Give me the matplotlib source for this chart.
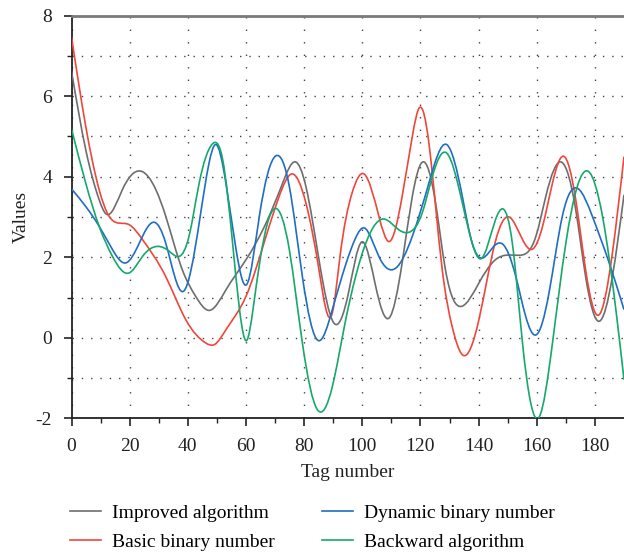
import numpy as np
import matplotlib
matplotlib.use('Agg')
import matplotlib.pyplot as plt
from matplotlib.path import Path
from matplotlib.patches import PathPatch
from matplotlib.lines import Line2D

plt.rcParams['font.family'] = ['Liberation Serif', 'DejaVu Serif']
plt.rcParams['axes.unicode_minus'] = False

# Values (knots of the smooth curves)
improved_x = [0, 4.9, 9.5, 11.8, 17.5, 23.8, 29, 32.4, 38.1, 42.7, 47.3, 53.1, 60, 66.9, 72.6, 76.9, 80.6,
              85.1, 90.3, 95.2, 99.8, 104.6, 109.2, 113.7, 117.2, 120.6, 125.2, 128.6, 134.1, 140.1, 145.8,
              149.3, 153.9, 159.7, 163.1, 168.6, 173.4, 176.8, 181.4, 186, 190]
improved_y = [6.62, 4.67, 3.43, 3.08, 3.68, 4.14, 3.68, 3.02, 1.69, 1.03, 0.68, 1.19, 1.94, 2.85, 3.84, 4.37, 3.76,
              1.94, 0.36, 1.1, 2.38, 1.28, 0.49, 1.86, 3.51, 4.36, 3.35, 1.69, 0.78, 1.36, 1.94,
              2.05, 2.05, 2.52, 3.51, 4.36, 3.18, 1.52, 0.41, 1.52, 3.55]

basic_x = [0, 4.9, 9.5, 12.9, 19.8, 24.4, 32.4, 39.3, 46.2, 49.1, 53.1, 60, 66.9, 71.4, 75.8, 80.6, 85.1,
           89.7, 92.3, 96.5, 100.6, 105.7, 109.2, 113.7, 117.2, 119.7, 122.9, 127.5, 130.9, 134.4, 140.1,
           145.8, 150.5, 155.1, 158.5, 162, 165.4, 169.2, 173.4, 176.8, 181.2, 186, 190]
basic_y = [7.47, 5.25, 3.68, 3.02, 2.81, 2.44, 1.52, 0.45, -0.13, -0.17, 0.2, 1.03, 2.52, 3.51, 4.07, 3.35, 1.69,
           0.62, 2.0, 3.6, 4.07, 3.02, 2.39, 3.51, 5.0, 5.72, 4.84, 1.69, 0.28, -0.42, 0.45,
           2.4, 3.0, 2.44, 2.2, 2.77, 3.84, 4.51, 3.43, 1.69, 0.56, 2.1, 4.5]

dynamic_x = [0, 4.9, 9.5, 14.1, 18.7, 23.3, 28.4, 32.4, 38.4, 43.9, 47.3, 49.5, 53.1, 56.6, 60.2, 64.6, 70.3,
             74.9, 79.4, 84.9, 89.7, 94.3, 97.7, 100.6, 105.7, 111.5, 117.2, 122.9, 129, 134.4, 137.8, 141.2,
             145.8, 148.2, 152.8, 156.2, 159.7, 164.2, 168.8, 174.3, 179.1, 184.9, 190]
dynamic_y = [3.7, 3.26, 2.77, 2.19, 1.86, 2.35, 2.87, 2.35, 1.15, 2.85, 4.34, 4.8, 3.84, 2.19, 1.32, 3.02, 4.52,
             3.76, 1.52, -0.07, 0.7, 1.82, 2.48, 2.73, 2.02, 1.73, 2.52, 3.84, 4.8, 3.51, 2.35, 1.98,
             2.31, 2.33, 1.52, 0.53, 0.07, 1.11, 3.02, 3.7, 3.02, 1.86, 0.7]

backward_x = [0, 4.9, 9.5, 14.1, 19.8, 24.4, 29.6, 33.6, 37, 40.4, 43.9, 48.4, 52, 55.4, 57.7, 60.2, 62.5, 65,
              67.4, 69.9, 74.9, 79.4, 84.6, 89.7, 94.3, 97.7, 100, 107.4, 112.6, 116, 120.6, 124.1, 129, 134.4,
              137.8, 140.7, 145.8, 148.4, 151.6, 155.1, 160.8, 165.4, 170, 177.8, 182.6, 187.2, 190]
backward_y = [5.19, 3.84, 2.77, 2.02, 1.61, 2.02, 2.27, 2.15, 2.02, 2.52, 3.84, 4.81, 4.42, 2.35, 0.75, -0.07, 0.75, 2.0,
              2.85, 3.21, 2.19, -0.13, -1.79, -1.21, 0.45, 1.52, 2.1, 2.95, 2.68, 2.62, 3.1, 4.01, 4.59, 3.35,
              2.35, 1.96, 2.93, 3.2, 2.35, -0.13, -1.97, -0.13, 2.35, 4.13, 3.02, 0.7, -1.04]

labels = ['Improved algorithm', 'Basic binary number', 'Dynamic binary number', 'Backward algorithm']
colors = ['#6e6e6e', '#f0463c', '#1f6ec2', '#16a86c']


def smooth_path(x, y):
    """Smooth curve through the read points, drawn as cubic Bezier pieces (C2 spline slopes)."""
    x = np.asarray(x, float)
    y = np.asarray(y, float)
    n = len(x)
    h = np.diff(x)
    d = np.diff(y) / h
    # slopes of a natural cubic spline through the points
    A = np.zeros((n, n))
    b = np.zeros(n)
    A[0, 0], A[0, 1], b[0] = 2, 1, 3 * d[0]
    A[-1, -2], A[-1, -1], b[-1] = 1, 2, 3 * d[-1]
    for k in range(1, n - 1):
        A[k, k - 1] = h[k]
        A[k, k] = 2 * (h[k - 1] + h[k])
        A[k, k + 1] = h[k - 1]
        b[k] = 3 * (h[k] * d[k - 1] + h[k - 1] * d[k])
    m = np.linalg.solve(A, b)
    verts = [(x[0], y[0])]
    codes = [Path.MOVETO]
    for k in range(n - 1):
        verts += [(x[k] + h[k] / 3, y[k] + m[k] * h[k] / 3),
                  (x[k + 1] - h[k] / 3, y[k + 1] - m[k + 1] * h[k] / 3),
                  (x[k + 1], y[k + 1])]
        codes += [Path.CURVE4] * 3
    return Path(verts, codes)


fig = plt.figure(figsize=(6.24, 5.54), dpi=100)
ax = fig.add_axes([0.1146, 0.2449, 0.8854, 0.7268])

series = [(improved_x, improved_y), (basic_x, basic_y), (dynamic_x, dynamic_y), (backward_x, backward_y)]
for (xs, ys), c in zip(series, colors):
    ax.add_patch(PathPatch(smooth_path(xs, ys), facecolor='none', edgecolor=c, lw=1.2,
                           transform=ax.transData, zorder=3))

ax.set_xlim(0, 190)
ax.set_ylim(-2, 8)
ax.set_xticks(range(0, 181, 20))
ax.set_xticks(range(10, 190, 20), minor=True)
ax.set_yticks(range(-2, 9, 2))
ax.set_yticks(range(-1, 8, 2), minor=True)

# dotted grid
ax.grid(which='major', axis='x', color='#444444', lw=1.0, linestyle=(0, (1, 8)))
ax.grid(which='both', axis='y', color='#444444', lw=1.0, linestyle=(0, (1, 5.7)))
ax.set_axisbelow(True)

ax.tick_params(which='major', direction='out', length=6, width=1.2, labelsize=14, colors='#222222', pad=8)
ax.tick_params(which='minor', direction='out', length=3.5, width=1.0, colors='#222222')
ax.tick_params(axis='y', which='major', pad=8)

ax.spines['right'].set_visible(False)
ax.spines['top'].set_color('#7a7a7a')
ax.spines['top'].set_linewidth(2)
for s in ['left', 'bottom']:
    ax.spines[s].set_color('#222222')
    ax.spines[s].set_linewidth(1.3)

ax.set_xlabel('Tag number', fontsize=14, color='#222222', labelpad=7)
ax.set_ylabel('Values', fontsize=14, color='#222222', labelpad=4)

handles = [Line2D([], [], color=c, lw=1.2) for c in colors]
fig.legend(handles, labels, loc='upper left', bbox_to_anchor=(0.112, 0.089), ncol=2, frameon=False,
           fontsize=14, borderpad=0, handlelength=1.6, handletextpad=0.58, columnspacing=2.4,
           labelspacing=0.55, borderaxespad=0)

plt.savefig('out.png', dpi=100)
